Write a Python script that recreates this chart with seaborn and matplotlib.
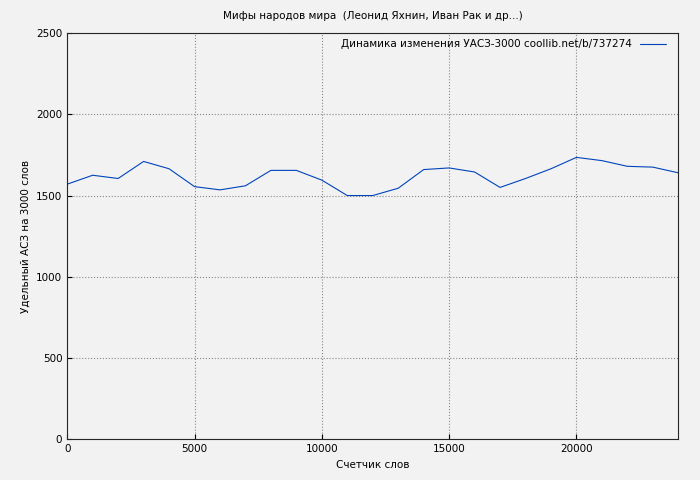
import matplotlib
matplotlib.use("Agg")
import matplotlib.pyplot as plt
import seaborn as sns
import pandas as pd

words = list(range(0, 25000, 1000))
values = [1570, 1625, 1605, 1710, 1665, 1555, 1535, 1560, 1655, 1655, 1595, 1500, 1500,
          1545, 1660, 1670, 1645, 1550, 1605, 1665, 1735, 1715, 1680, 1675, 1640]
df = pd.DataFrame({"x": words, "y": values})

sns.set_style("ticks")
plt.rcParams['font.family'] = ['DejaVu Sans']
plt.rcParams['text.color'] = 'black'
plt.rcParams['axes.labelcolor'] = 'black'
plt.rcParams['xtick.color'] = 'black'
plt.rcParams['ytick.color'] = 'black'
fig, ax = plt.subplots(figsize=(7, 4.8), dpi=100)
fig.patch.set_facecolor("#f2f2f2")
ax.set_facecolor("#f2f2f2")
sns.lineplot(data=df, x="x", y="y", ax=ax, color="#0044bb", linewidth=0.8,
             label="Динамика изменения УАСЗ-3000 coollib.net/b/737274")
ax.set_xlim(0, 24000)
ax.set_ylim(0, 2500)
ax.set_xticks([0, 5000, 10000, 15000, 20000])
ax.set_yticks([0, 500, 1000, 1500, 2000, 2500])
ax.grid(True, linestyle=":", color="#888888", linewidth=0.8)
ax.tick_params(labelsize=7.5, direction="in")
ax.set_xlabel("Счетчик слов", fontsize=7.5)
ax.set_ylabel("Удельный АСЗ на 3000 слов", fontsize=7.5)
ax.set_title("Мифы народов мира  (Леонид Яхнин, Иван Рак и др...)", fontsize=7.5, pad=10)
ax.legend(loc="upper right", frameon=False, fontsize=7.5, markerfirst=False,
          borderaxespad=0.2, bbox_to_anchor=(0.99, 1.0), handlelength=2.5)
plt.subplots_adjust(left=0.096, right=0.969, top=0.931, bottom=0.085)
fig.savefig("out.png", dpi=100, facecolor=fig.get_facecolor())
